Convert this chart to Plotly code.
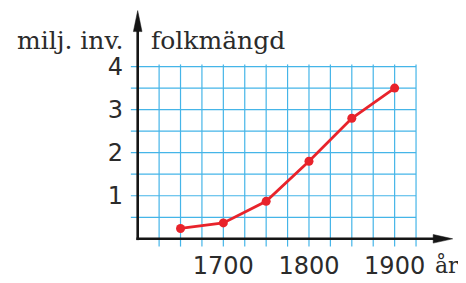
import plotly.graph_objects as go

years = [1650, 1700, 1750, 1800, 1850, 1900]
population = [0.24, 0.37, 0.87, 1.80, 2.80, 3.50]

x_ticks = [1700, 1800, 1900]
x_tick_labels = ["1700", "1800", "1900"]
y_ticks = [1, 2, 3, 4]
y_tick_labels = ["1", "2", "3", "4"]

y_label = "milj. inv."
title_label = "folkmängd"
x_label = "år"

grid_x = [1600 + 25 * i for i in range(1, 14)]
grid_y = [0.5 * i for i in range(1, 9)]

GRID = "#45b5e8"
RED = "#e8232b"
TXT = "#2b2b2b"
AX = "#151515"
SERIF = "DejaVu Serif"
SANS = "DejaVu Sans"

# page has an 8px body margin: the figure is drawn 8px right / 8px down
OFF = 8
W, H = 466 - OFF, 283 - OFF
XPX = 0.8564   # px per year
YPX = 43.09    # px per unit
XR = [1584, 1974]
YR = [-0.19, 5.36]
L, T = 116, 0
PW = round((XR[1] - XR[0]) * XPX)
PH = round((YR[1] - YR[0]) * YPX)
R = W - L - PW
B = H - T - PH


def px(xp):
    return (xp - OFF - L) / PW


def py(yp):
    return (H - B - (yp - OFF)) / PH


fig = go.Figure()

shapes = []
for gx in grid_x:
    shapes.append(dict(type="line", xref="x", yref="y", x0=gx, x1=gx, y0=-0.18, y1=4.05,
                       line=dict(color=GRID, width=1.2), layer="below"))
for gy in grid_y:
    shapes.append(dict(type="line", xref="x", yref="y", x0=1592, x1=1925, y0=gy, y1=gy,
                       line=dict(color=GRID, width=1.2), layer="below"))

# axes
shapes.append(dict(type="line", xref="x", yref="y", x0=1598.5, x1=1955, y0=0, y1=0,
                   line=dict(color=AX, width=2.6)))
shapes.append(dict(type="line", xref="x", yref="y", x0=1600, x1=1600, y0=-0.03, y1=5.0,
                   line=dict(color=AX, width=2.6)))
# arrowheads (pixel-sized paths anchored at the tips)
shapes.append(dict(type="path", xref="x", yref="y", xsizemode="pixel", ysizemode="pixel",
                   xanchor=1967.8, yanchor=0, path="M0,0 L-19.5,4.3 L-19.5,-4.3 Z",
                   fillcolor=AX, line=dict(color=AX, width=0.5)))
shapes.append(dict(type="path", xref="x", yref="y", xsizemode="pixel", ysizemode="pixel",
                   xanchor=1600, yanchor=5.30, path="M0,0 L4.3,-21 L-4.3,-21 Z",
                   fillcolor=AX, line=dict(color=AX, width=0.5)))

fig.add_trace(go.Scatter(x=years, y=population, mode="lines+markers",
                         line=dict(color=RED, width=2.8),
                         marker=dict(color=RED, size=9),
                         hoverinfo="skip", showlegend=False))

annotations = [
    dict(x=px(126), y=py(40), xref="paper", yref="paper", text=y_label, showarrow=False,
         xanchor="right", yanchor="middle", font=dict(family=SERIF, size=25, color=TXT)),
    dict(x=px(149), y=py(40), xref="paper", yref="paper", text=title_label, showarrow=False,
         xanchor="left", yanchor="middle", font=dict(family=SERIF, size=25, color=TXT)),
    dict(x=px(461), y=py(265), xref="paper", yref="paper", text=x_label, showarrow=False,
         xanchor="right", yanchor="middle", font=dict(family=SERIF, size=22, color=TXT)),
]

fig.update_layout(
    width=W, height=H,
    margin=dict(l=L, r=R, t=T, b=B, pad=0, autoexpand=False),
    paper_bgcolor="white", plot_bgcolor="white",
    shapes=shapes, annotations=annotations,
    xaxis=dict(range=XR, showgrid=False, zeroline=False, showline=False,
               tickvals=x_ticks, ticktext=x_tick_labels, ticks="", automargin=False,
               tickfont=dict(family=SANS, size=24, color=TXT), ticklabelstandoff=2),
    yaxis=dict(range=YR, showgrid=False, zeroline=False, showline=False,
               tickvals=y_ticks, ticktext=y_tick_labels, ticks="", automargin=False,
               tickfont=dict(family=SANS, size=24, color=TXT), ticklabelstandoff=0),
)

fig.write_html("out.html")
